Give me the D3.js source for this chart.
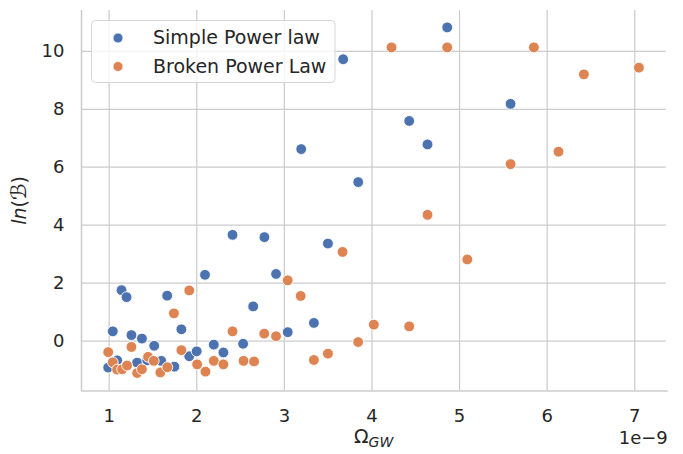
<!DOCTYPE html>
<html>
<head>
<meta charset="utf-8">
<script src="https://cdn.jsdelivr.net/npm/d3@7/dist/d3.min.js"></script>
<style>
  html, body { margin: 0; padding: 0; background: #fff; }
  svg { display: block; font-family: "DejaVu Sans", sans-serif; }
</style>
</head>
<body>
<svg id="chart" width="683" height="454"></svg>
<script>
// Omega_GW in units of 1e-9 and ln(Bayes factor) for each model
const simpleX = [0.995, 1.047, 1.097, 1.147, 1.204, 1.26, 1.325, 1.38, 1.44, 1.52,
  1.60, 1.668, 1.75, 1.83, 1.92, 2.005, 2.10, 2.20, 2.31, 2.414,
  2.535, 2.65, 2.778, 2.911, 3.044, 3.198, 3.343, 3.503, 3.677, 3.849,
  4.431, 4.640, 4.865, 5.588];
const simpleY = [-0.93, 0.32, -0.68, 1.74, 1.50, 0.19, -0.76, 0.07, -0.68, -0.18,
  -0.70, 1.55, -0.90, 0.39, -0.54, -0.37, 2.27, -0.14, -0.41, 3.65,
  -0.11, 1.18, 3.57, 2.30, 0.29, 6.61, 0.61, 3.35, 9.71, 5.47,
  7.58, 6.77, 10.81, 8.17];

const brokenX = [0.995, 1.047, 1.097, 1.154, 1.21, 1.26, 1.325, 1.38, 1.45, 1.515,
  1.59, 1.67, 1.745, 1.83, 1.92, 2.01, 2.105, 2.20, 2.31, 2.414,
  2.54, 2.66, 2.776, 2.911, 3.044, 3.192, 3.343, 3.503, 3.670, 3.848,
  4.027, 4.229, 4.431, 4.640, 4.865, 5.094, 5.588, 5.854, 6.135, 6.425,
  7.053];
const brokenY = [-0.40, -0.75, -1.00, -0.99, -0.86, -0.22, -1.12, -0.99, -0.56, -0.70,
  -1.10, -0.92, 0.94, -0.33, 1.73, -0.82, -1.07, -0.70, -0.82, 0.32,
  -0.70, -0.72, 0.24, 0.15, 2.08, 1.54, -0.67, -0.45, 3.06, -0.05,
  0.55, 10.12, 0.49, 4.34, 10.12, 2.80, 6.09, 10.12, 6.52, 9.19,
  9.42];

const xTicks = [1, 2, 3, 4, 5, 6, 7];
const yTicks = [0, 2, 4, 6, 8, 10];
const seriesNames = ["Simple Power law", "Broken Power Law"];
const seriesColors = ["#4c72b0", "#dd8452"];

const svg = d3.select("#chart");
const plotLeft = 81.5, plotRight = 665.8, plotTop = 10, plotBottom = 391;

const x = d3.scaleLinear().domain([0.69, 7.36]).range([plotLeft, plotRight]);
const y = d3.scaleLinear().domain([-1.74, 11.41]).range([plotBottom, plotTop]);

const textColor = "#262626";
const gridColor = "#cccccc";

// grid lines and tick labels
const gx = svg.append("g")
  .attr("transform", `translate(0,${plotBottom})`)
  .call(d3.axisBottom(x).tickValues(xTicks).tickSize(-(plotBottom - plotTop)).tickPadding(18).tickFormat(d3.format("d")));
const gy = svg.append("g")
  .attr("transform", `translate(${plotLeft},0)`)
  .call(d3.axisLeft(y).tickValues(yTicks).tickSize(-(plotRight - plotLeft)).tickPadding(17).tickFormat(d3.format("d")));

[gx, gy].forEach(g => {
  g.select(".domain").remove();
  g.selectAll(".tick line").attr("stroke", gridColor).attr("stroke-width", 1.25);
  g.selectAll(".tick text").attr("fill", textColor).attr("font-size", 18)
    .attr("font-family", "DejaVu Sans");
});
gx.selectAll(".tick text").attr("dy", "0.71em");

// left and bottom spines
svg.append("line").attr("x1", plotLeft).attr("x2", plotLeft).attr("y1", plotTop).attr("y2", plotBottom)
  .attr("stroke", gridColor).attr("stroke-width", 1.5);
svg.append("line").attr("x1", plotLeft).attr("x2", plotRight + 2).attr("y1", plotBottom).attr("y2", plotBottom)
  .attr("stroke", gridColor).attr("stroke-width", 1.5);

// points
const series = [
  { name: seriesNames[0], color: seriesColors[0], pts: simpleX.map((v, i) => [v, simpleY[i]]) },
  { name: seriesNames[1], color: seriesColors[1], pts: brokenX.map((v, i) => [v, brokenY[i]]) }
];
series.forEach(s => {
  svg.append("g").selectAll("circle").data(s.pts).join("circle")
    .attr("cx", d => x(d[0])).attr("cy", d => y(d[1])).attr("r", 5.4)
    .attr("fill", s.color).attr("stroke", "#fff").attr("stroke-width", 0.9);
});

// legend
const lg = svg.append("g");
lg.append("rect").attr("x", 91.5).attr("y", 20.5).attr("width", 243.5).attr("height", 62)
  .attr("rx", 4).attr("fill", "#fff").attr("fill-opacity", 0.8)
  .attr("stroke", "#d6d6d6").attr("stroke-width", 1);
series.forEach((s, i) => {
  const cy = 37.5 + i * 28.5;
  lg.append("circle").attr("cx", 118).attr("cy", cy + 0.5).attr("r", 5)
    .attr("fill", s.color).attr("stroke", "#fff").attr("stroke-width", 0.8);
  lg.append("text").attr("x", 153).attr("y", cy).attr("dy", "0.36em")
    .attr("font-size", 19).attr("fill", textColor).text(s.name);
});

// axis labels
const xl = svg.append("text").attr("x", (plotLeft + plotRight) / 2).attr("y", 443)
  .attr("text-anchor", "middle").attr("font-size", 19).attr("fill", textColor);
xl.append("tspan").text("Ω");
xl.append("tspan").attr("font-style", "italic").attr("font-size", 14).attr("dy", 4).text("GW");

svg.append("text").attr("x", plotRight + 2).attr("y", 444).attr("text-anchor", "end")
  .attr("font-size", 18).attr("fill", textColor).text("1e\u22129");

const yl = svg.append("text").attr("transform", `translate(26,${(plotTop + plotBottom) / 2}) rotate(-90)`)
  .attr("text-anchor", "middle").attr("font-size", 19).attr("fill", textColor);
yl.append("tspan").attr("font-style", "italic").text("ln");
yl.append("tspan").text("(");
yl.append("tspan").attr("font-style", "italic").attr("font-size", 21).text("\u212C");
yl.append("tspan").text(")");
</script>
</body>
</html>
